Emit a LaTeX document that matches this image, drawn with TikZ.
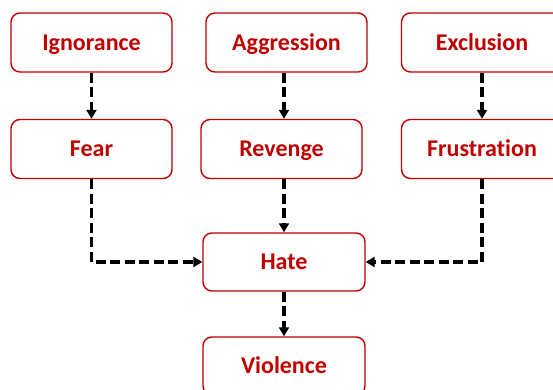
\documentclass[tikz,border=0pt]{standalone}
\usepackage{fontspec}
\setmainfont[Ligatures={NoCommon}]{Carlito}
\usetikzlibrary{arrows.meta}
\definecolor{boxred}{HTML}{C00000}
\tikzset{
  x=1pt, y=-1pt,
  flowbox/.style={draw=boxred, line width=1.4pt, rounded corners=9pt, fill=white,
    minimum width=161pt, minimum height=59pt, inner sep=0pt,
    text height=15.4pt, text depth=0pt,
    text=boxred, font=\fontsize{24}{28}\selectfont\bfseries},
  flowarrow/.style={draw=black, line width=3.5pt, dash pattern=on 10pt off 4.5pt,
    -{Triangle[length=9pt,width=10pt]}}
}
\begin{document}
\begin{tikzpicture}
\useasboundingbox (0,0) rectangle (553,390);
\clip (0,0) rectangle (553,390);
\node[flowbox] (ign) at (91.5,42.5) {Ignorance};
\node[flowbox] (agg) at (286.5,42.5) {Aggression};
\node[flowbox] (exc) at (482,42.5) {Exclusion};
\node[flowbox] (fear) at (91.5,149) {Fear};
\node[flowbox] (rev) at (281.5,149) {Revenge};
\node[flowbox] (fru) at (482,149) {Frustration};
\node[flowbox, minimum width=162pt, minimum height=58pt] (hate) at (284,262) {Hate};
\node[flowbox, minimum width=162pt, minimum height=58pt] (vio) at (284,366) {Violence};
\draw[flowarrow] (ign.south) -- (fear.north);
\draw[flowarrow] (agg.south -| hate.north) -- (rev.north -| hate.north);
\draw[flowarrow] (exc.south) -- (fru.north);
\draw[flowarrow] (rev.south -| hate.north) -- (hate.north);
\draw[flowarrow] (fear.south) |- (hate.west);
\draw[flowarrow] (fru.south) |- (hate.east);
\draw[flowarrow] (hate.south) -- (vio.north);
\end{tikzpicture}
\end{document}
